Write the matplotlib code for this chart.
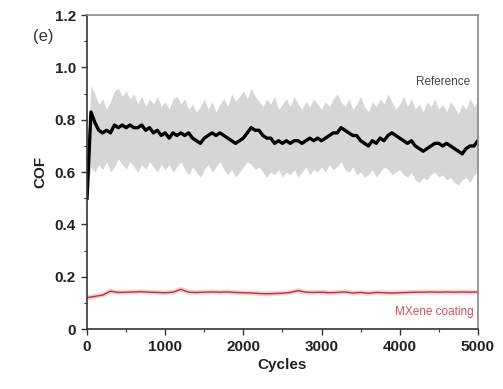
import numpy as np
import matplotlib
matplotlib.use("Agg")
import matplotlib.pyplot as plt
from matplotlib.ticker import MultipleLocator

plt.rcParams['font.family'] = ['Liberation Sans', 'DejaVu Sans']

# Reference (uncoated) COF, sampled every 50 cycles
ref_cycles = np.arange(0, 5001, 50)
ref_mean = [
    0.50, 0.83, 0.79, 0.76, 0.75, 0.76, 0.75, 0.78, 0.77, 0.78,
    0.77, 0.78, 0.77, 0.77, 0.78, 0.76, 0.77, 0.75, 0.76, 0.74,
    0.75, 0.73, 0.75, 0.74, 0.75, 0.74, 0.75, 0.73, 0.72, 0.71,
    0.73, 0.74, 0.75, 0.74, 0.75, 0.74, 0.73, 0.72, 0.71, 0.72,
    0.73, 0.75, 0.77, 0.76, 0.76, 0.74, 0.73, 0.73, 0.71, 0.72,
    0.71, 0.72, 0.71, 0.72, 0.72, 0.71, 0.72, 0.73, 0.72, 0.73,
    0.72, 0.73, 0.74, 0.75, 0.75, 0.77, 0.76, 0.75, 0.74, 0.74,
    0.72, 0.71, 0.70, 0.72, 0.71, 0.73, 0.72, 0.74, 0.75, 0.74,
    0.73, 0.72, 0.71, 0.72, 0.70, 0.69, 0.68, 0.69, 0.70, 0.71,
    0.71, 0.70, 0.71, 0.70, 0.69, 0.68, 0.67, 0.69, 0.70, 0.70,
    0.72,
]
ref_upper = [
    0.60, 0.93, 0.90, 0.86, 0.88, 0.84, 0.87, 0.91, 0.92, 0.89,
    0.91, 0.88, 0.90, 0.86, 0.89, 0.85, 0.88, 0.86, 0.89, 0.85,
    0.87, 0.84, 0.88, 0.89, 0.86, 0.88, 0.84, 0.86, 0.83, 0.85,
    0.88, 0.84, 0.87, 0.83, 0.86, 0.88, 0.85, 0.90, 0.87, 0.89,
    0.91, 0.88, 0.92, 0.89, 0.87, 0.85, 0.88, 0.86, 0.89, 0.84,
    0.86, 0.88, 0.85, 0.89, 0.86, 0.84, 0.87, 0.85, 0.88, 0.86,
    0.84, 0.87, 0.85, 0.88, 0.90, 0.87, 0.85, 0.88, 0.84, 0.86,
    0.89, 0.85, 0.83, 0.87, 0.85, 0.88, 0.86, 0.90, 0.87, 0.84,
    0.86, 0.89, 0.85, 0.88, 0.84, 0.86, 0.83, 0.87, 0.85, 0.88,
    0.84, 0.86, 0.83, 0.87, 0.85, 0.82, 0.86, 0.84, 0.88, 0.85,
    0.87,
]
ref_lower = [
    0.48, 0.62, 0.60, 0.63, 0.61, 0.64, 0.60, 0.62, 0.65, 0.63,
    0.61, 0.64, 0.62, 0.60, 0.63, 0.61, 0.64, 0.62, 0.60, 0.63,
    0.61, 0.63, 0.60, 0.62, 0.64, 0.61, 0.59, 0.62, 0.60, 0.58,
    0.61, 0.63, 0.60, 0.62, 0.64, 0.61, 0.59, 0.61, 0.58, 0.60,
    0.62, 0.64, 0.63, 0.61, 0.62, 0.60, 0.58, 0.60, 0.59, 0.61,
    0.58, 0.60, 0.59, 0.61, 0.58, 0.60, 0.62, 0.59, 0.61, 0.60,
    0.62, 0.60, 0.63, 0.61, 0.62, 0.64, 0.61, 0.60, 0.62, 0.59,
    0.60, 0.58, 0.59, 0.61, 0.58, 0.60, 0.62, 0.61, 0.59, 0.60,
    0.61, 0.59, 0.58, 0.60, 0.57, 0.56, 0.58, 0.57, 0.59, 0.60,
    0.58, 0.59, 0.57, 0.58, 0.56, 0.55, 0.57, 0.58, 0.56, 0.59,
    0.60,
]

# MXene coating COF, sampled every 100 cycles
mx_cycles = np.arange(0, 5001, 100)
mx_mean = [
    0.120, 0.125, 0.130, 0.145, 0.140, 0.141, 0.142, 0.143, 0.141, 0.140,
    0.139, 0.141, 0.152, 0.141, 0.140, 0.141, 0.142, 0.141, 0.142, 0.140,
    0.139, 0.138, 0.136, 0.135, 0.136, 0.137, 0.140, 0.147, 0.141, 0.140,
    0.141, 0.139, 0.140, 0.142, 0.138, 0.140, 0.137, 0.140, 0.139, 0.138,
    0.139, 0.140, 0.141, 0.141, 0.142, 0.141, 0.142, 0.141, 0.142, 0.141,
    0.142,
]

fig = plt.figure(figsize=(5.03, 3.89), dpi=100)
ax = fig.add_axes([0.173, 0.154, 0.777, 0.807])

ax.fill_between(ref_cycles, ref_lower, ref_upper, color='#d6d6d6', lw=0)
ax.plot(ref_cycles, ref_mean, color='black', lw=2.4)

ax.plot(mx_cycles, mx_mean, color='#e06070', lw=3.5, alpha=0.3)
ax.plot(mx_cycles, mx_mean, color='#b8303a', lw=1.0)

ax.set_xlim(0, 5000)
ax.set_ylim(0, 1.2)
ax.xaxis.set_major_locator(MultipleLocator(1000))
ax.xaxis.set_minor_locator(MultipleLocator(500))
ax.yaxis.set_minor_locator(MultipleLocator(0.1))
ax.set_yticks(np.arange(0, 1.21, 0.2))
ax.set_yticklabels(['0', '0.2', '0.4', '0.6', '0.8', '1.0', '1.2'])

ax.tick_params(which='major', direction='out', length=4.5, width=1, labelsize=11, colors='#333333')
ax.tick_params(which='minor', direction='out', length=2.5, width=0.8, colors='#333333')
for lab in ax.get_xticklabels() + ax.get_yticklabels():
    lab.set_fontweight('bold')
    lab.set_color('#222222')

for side in ['left', 'bottom']:
    ax.spines[side].set_color('#333333')
    ax.spines[side].set_linewidth(1.2)
for side in ['top', 'right']:
    ax.spines[side].set_color('#888888')
    ax.spines[side].set_linewidth(1.2)

ax.set_xlabel('Cycles', fontsize=11, fontweight='bold', color='#222222', labelpad=3)
ax.set_ylabel('COF', fontsize=11, fontweight='bold', color='#222222', labelpad=5)

fig.text(43 / 503, 1 - 37 / 389, '(e)', fontsize=12, color='#333333', ha='center', va='center')
ax.text(4900, 0.945, 'Reference', fontsize=8.5, color='#444444', ha='right', va='center')
ax.text(4950, 0.065, 'MXene coating', fontsize=8.5, color='#d05060', ha='right', va='center')

fig.savefig('out.png', dpi=100)
